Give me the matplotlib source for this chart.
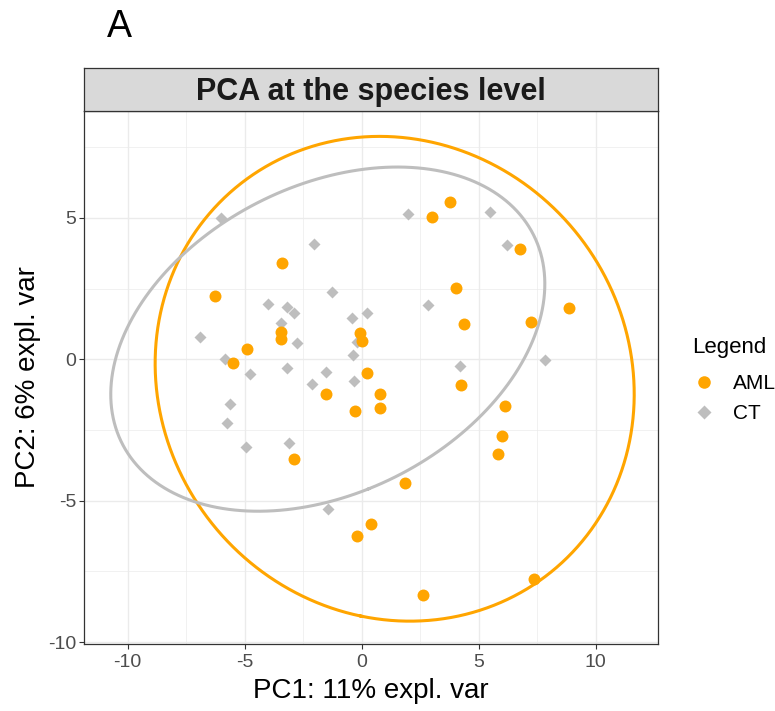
import matplotlib.pyplot as plt
from matplotlib.lines import Line2D
import numpy as np

plt.rcParams['font.family'] = ['Liberation Sans', 'DejaVu Sans']
plt.rcParams['axes.unicode_minus'] = False

# PCA scores
AML_PC1 = [-3.40, -6.27, -3.43, -3.43, -4.89, -5.49, -0.06, 0.00, 0.22, -1.52,
           -0.29, -2.90, -0.21, 0.40, 3.80, 3.01, 6.77, 4.02, 4.37, 7.24,
           8.88, 4.27, 0.78, 0.80, 6.13, 6.02, 5.85, 1.85, 2.63, 7.37]
AML_PC2 = [3.39, 2.22, 0.95, 0.70, 0.38, -0.13, 0.92, 0.63, -0.50, -1.23,
           -1.83, -3.52, -6.24, -5.82, 5.57, 5.04, 3.91, 2.53, 1.25, 1.32,
           1.81, -0.91, -1.24, -1.71, -1.64, -2.70, -3.34, -4.38, -8.34, -7.78]
CT_PC1 = [-6.00, -2.04, -1.25, -4.00, -3.20, -2.90, -0.42, 0.22, -3.43, -6.92,
          -2.77, -0.35, -0.19, -5.83, -4.78, -3.20, -1.50, -2.13, -0.31, -5.62,
          -5.73, -4.95, -3.11, -1.43, 2.00, 5.50, 6.22, 2.84, 4.20, 7.84]
CT_PC2 = [5.00, 4.06, 2.38, 1.96, 1.85, 1.65, 1.47, 1.63, 1.28, 0.80,
          0.56, 0.15, 0.61, 0.00, -0.52, -0.30, -0.45, -0.89, -0.78, -1.58,
          -2.25, -3.09, -2.96, -5.29, 5.14, 5.22, 4.04, 1.92, -0.23, -0.02]

GROUPS = ['AML', 'CT']
COLORS = {'AML': '#FFA500', 'CT': '#BEBEBE'}
MARKERS = {'AML': 'o', 'CT': 'D'}
MSIZE = {'AML': 8.6, 'CT': 6.4}


def conf_ellipse(x, y, level_t=np.sqrt(5.991), n=200):
    # 95% normal-theory ellipse from mean and covariance
    pts = np.vstack([x, y])
    mu = pts.mean(axis=1)
    cov = np.cov(pts)
    vals, vecs = np.linalg.eigh(cov)
    t = np.linspace(0, 2 * np.pi, n)
    circle = np.vstack([np.cos(t), np.sin(t)])
    ell = vecs @ (np.sqrt(vals)[:, None] * circle) * level_t + mu[:, None]
    return ell[0], ell[1]


fig = plt.figure(figsize=(7.75, 7.11), dpi=100)
ax = fig.add_axes([0.1084, 0.0942, 0.7406, 0.7497])

data = {'AML': (AML_PC1, AML_PC2), 'CT': (CT_PC1, CT_PC2)}

for g in GROUPS:
    ex, ey = conf_ellipse(np.array(data[g][0]), np.array(data[g][1]))
    ax.plot(ex, ey, color=COLORS[g], lw=2.2, zorder=2)

for g in ['CT', 'AML']:
    ax.plot(data[g][0], data[g][1], MARKERS[g], color=COLORS[g], ms=MSIZE[g],
            mec='none', zorder=3)

ax.set_xlim(-11.86, 12.67)
ax.set_ylim(-10.07, 8.78)
ax.set_xticks([-10, -5, 0, 5, 10])
ax.set_yticks([-10, -5, 0, 5])
ax.set_xticks([-7.5, -2.5, 2.5, 7.5], minor=True)
ax.set_yticks([-7.5, -2.5, 2.5, 7.5], minor=True)
ax.grid(which='major', color='#EBEBEB', lw=1.0, zorder=0)
ax.grid(which='minor', color='#EBEBEB', lw=0.5, zorder=0)
ax.set_axisbelow(True)
ax.tick_params(which='major', length=3.5, width=0.8, color='#333333',
               labelsize=14, labelcolor='#4D4D4D', pad=2)
ax.tick_params(axis='x', which='major', pad=4)
ax.tick_params(which='minor', length=0)
for s in ax.spines.values():
    s.set_color('#333333')
    s.set_linewidth(0.9)

ax.set_xlabel('PC1: 11% expl. var', fontsize=20, labelpad=5)
ax.set_ylabel('PC2: 6% expl. var', fontsize=20, labelpad=5)

# facet strip
strip = fig.add_axes([0.1084, 0.8439, 0.7406, 0.0605])
strip.set_facecolor('#D9D9D9')
strip.set_xticks([])
strip.set_yticks([])
for s in strip.spines.values():
    s.set_color('#333333')
    s.set_linewidth(0.9)
strip.text(0.5, 0.45, 'PCA at the species level', ha='center', va='center',
           fontsize=22, fontweight='bold', color='#1A1A1A')

fig.text(0.138, 0.962, 'A', fontsize=27, ha='left', va='center')

handles = [Line2D([], [], marker=MARKERS[g], color=COLORS[g], ls='none',
                  ms=MSIZE[g] * 1.05, mec='none') for g in GROUPS]
leg = fig.legend(handles, GROUPS, title='Legend', loc='upper left',
                 bbox_to_anchor=(0.882, 0.538), frameon=False, fontsize=15,
                 title_fontsize=16, handletextpad=0.75, labelspacing=0.5,
                 handlelength=1.2, borderaxespad=0)
leg._legend_box.align = 'left'
leg._legend_box.sep = 12

fig.savefig('out.png', dpi=100)
